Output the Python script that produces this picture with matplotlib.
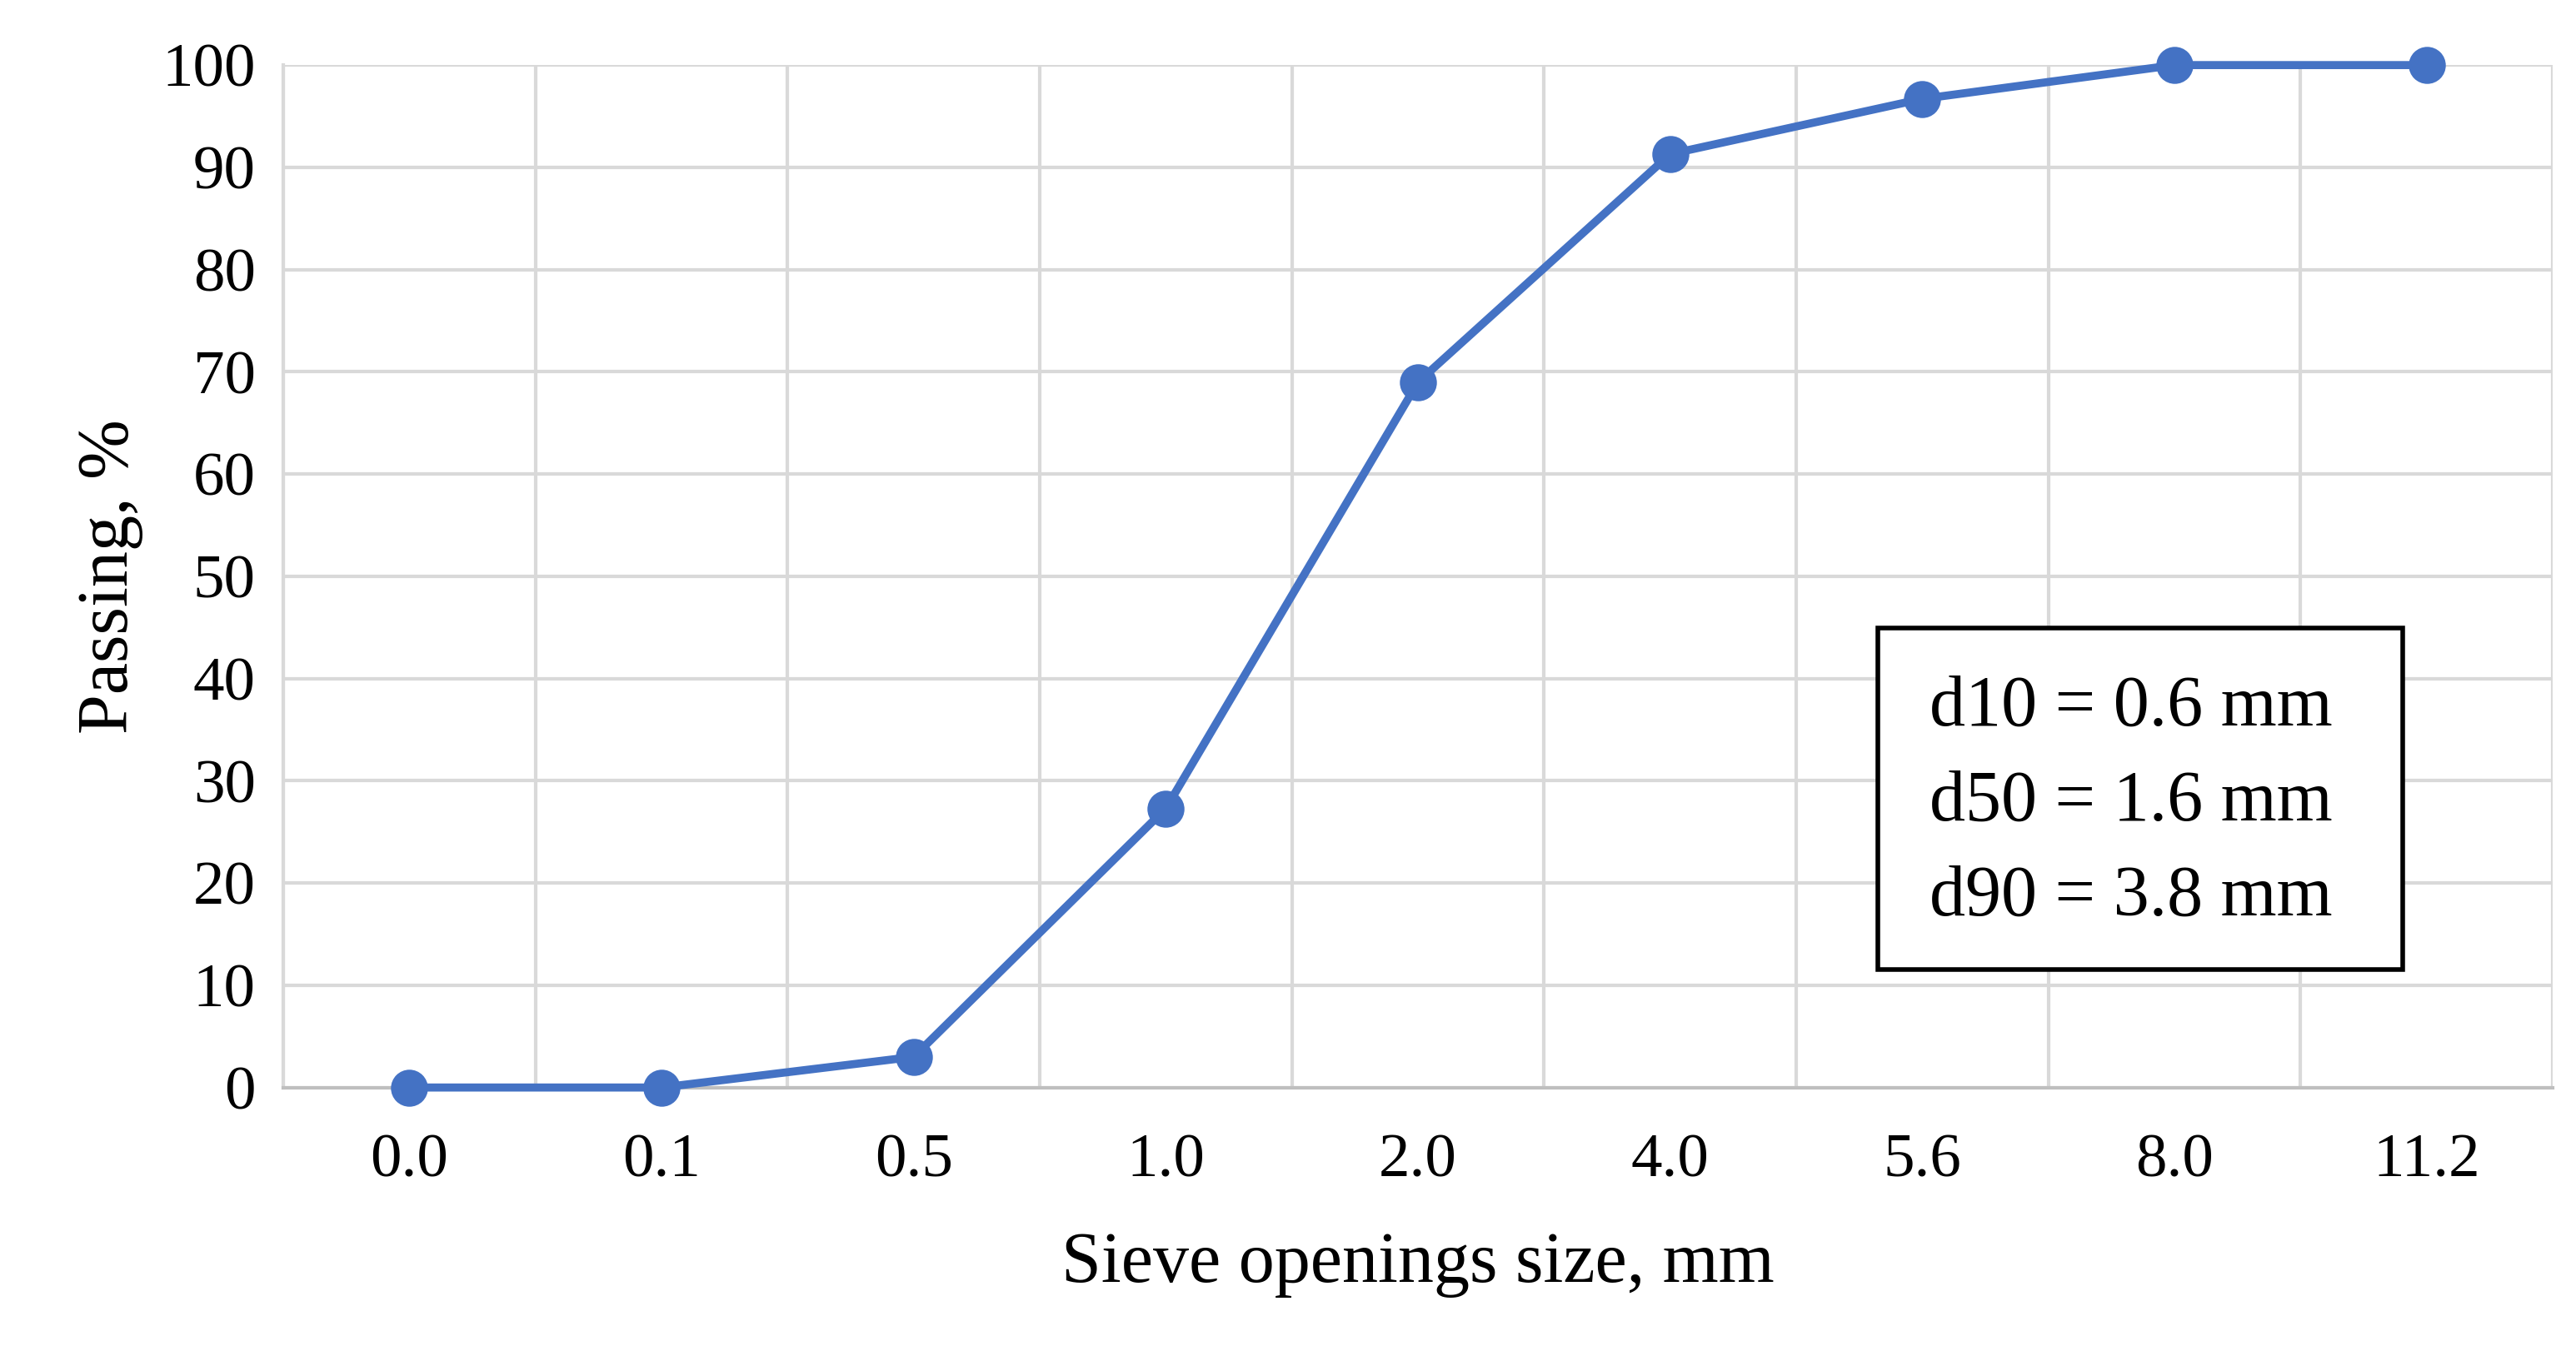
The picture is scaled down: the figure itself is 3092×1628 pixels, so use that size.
import matplotlib.pyplot as plt
from matplotlib.patches import Rectangle

sizes = ["0.0", "0.1", "0.5", "1.0", "2.0", "4.0", "5.6", "8.0", "11.2"]
passing = [0, 0, 3, 27.3, 69, 91.3, 96.7, 100, 100]
notes = ["d10 = 0.6 mm", "d50 = 1.6 mm", "d90 = 3.8 mm"]

plt.rcParams['font.family'] = ['Liberation Serif', 'DejaVu Serif']

fig = plt.figure(figsize=(15.46, 8.14), dpi=200)
ax = fig.add_axes([0.110, 0.198, 0.881, 0.754])

x = range(len(sizes))
ax.plot(x, passing, color="#4472C4", lw=3.5, marker="o", ms=15, zorder=3, clip_on=False)

ax.set_xlim(-0.5, len(sizes) - 0.5)
ax.set_ylim(0, 100)
ax.set_yticks(range(0, 101, 10))
ax.set_xticks(list(x))
ax.set_xticklabels(sizes)
ax.set_xticks([i + 0.5 for i in range(-1, len(sizes))], minor=True)
ax.grid(True, which="minor", axis="x", color="#D9D9D9", lw=1.5)
ax.grid(True, which="major", axis="y", color="#D9D9D9", lw=1.5)
ax.set_axisbelow(True)
for s in ["top", "right"]:
    ax.spines[s].set_visible(False)
ax.spines["left"].set_color("#D9D9D9")
ax.spines["left"].set_linewidth(1.5)
ax.spines["bottom"].set_color("#BFBFBF")
ax.spines["bottom"].set_linewidth(1.5)
ax.tick_params(which="both", length=0, labelsize=27)
ax.tick_params(axis="x", pad=20)
ax.tick_params(axis="y", pad=12)

ax.set_xlabel("Sieve openings size, mm", fontsize=31, labelpad=18)
ax.set_ylabel("Passing, %", fontsize=31, labelpad=8)

# annotation box
fig.patches.append(Rectangle((1127 / 1546, 1 - 582 / 814), 315 / 1546, 205 / 814,
                             transform=fig.transFigure, fill=True, facecolor="white",
                             edgecolor="black", lw=2, zorder=5))
for i, t in enumerate(notes):
    fig.text(1158 / 1546, 1 - (425 + 57 * i) / 814, t, fontsize=31,
             va="center", ha="left", zorder=6)

fig.savefig("out.png")
